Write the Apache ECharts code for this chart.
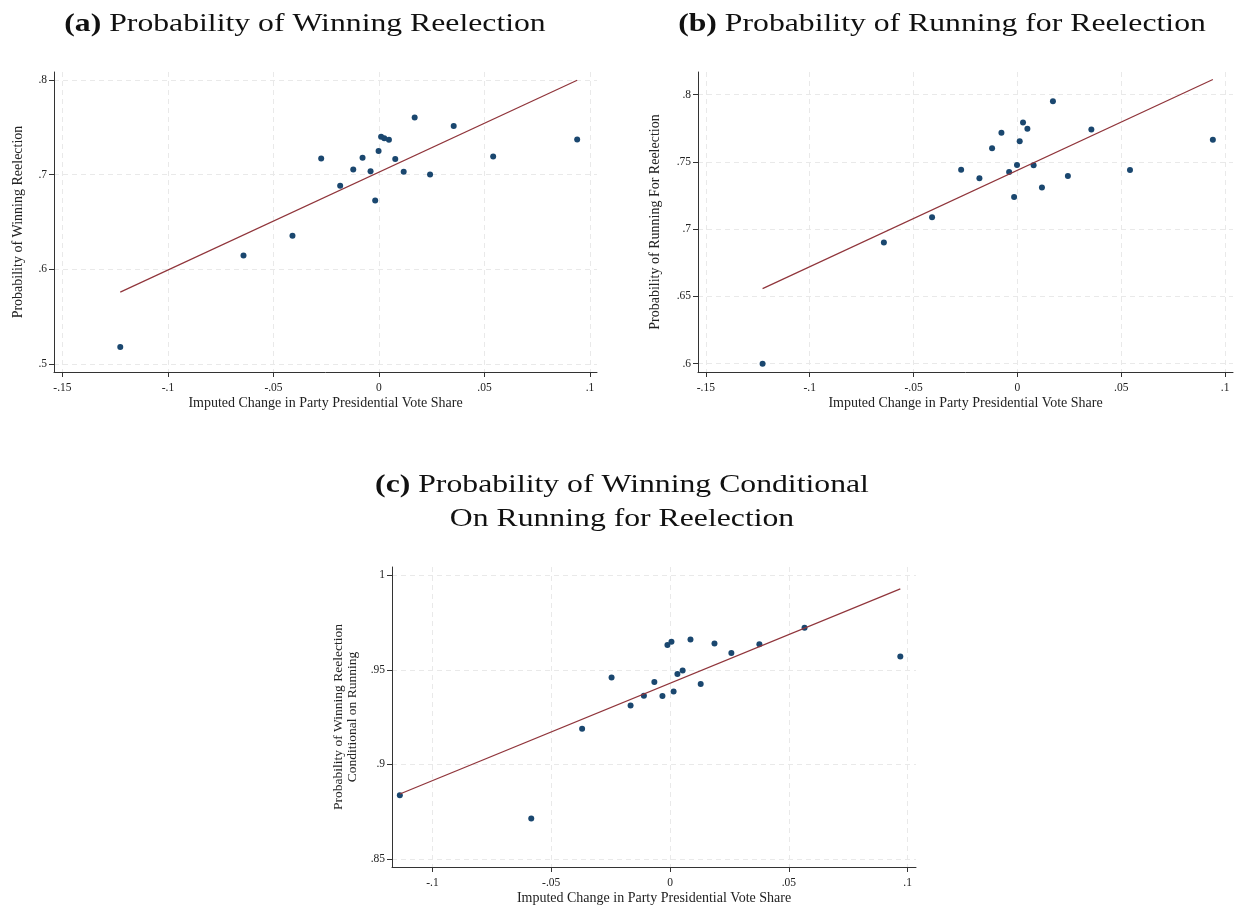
<!DOCTYPE html>
<html><head><meta charset="utf-8">
<script src="https://cdn.jsdelivr.net/npm/echarts@6/dist/echarts.min.js"></script>
<style>html,body{margin:0;padding:0;background:#fff}#c{width:1236px;height:907px}</style>
</head><body><div id="c"></div>
<script>
// ---- data ----
const xA = [-0.1226,-0.0642,-0.0410,-0.0274,-0.0184,-0.0122,-0.0078,-0.0040,-0.0018,-0.0002,0.0010,0.0025,0.0047,0.0077,0.0117,0.0169,0.0242,0.0354,0.0541,0.0939];
const yA = [0.518,0.6147,0.6355,0.7172,0.6884,0.7056,0.718,0.7035,0.6728,0.725,0.740,0.7384,0.737,0.7165,0.7032,0.7603,0.7003,0.7514,0.7193,0.7373];
const fitA = [[-0.1226,0.5759],[0.0939,0.7997]];

const xB = [-0.1227,-0.0643,-0.0411,-0.0271,-0.0183,-0.0122,-0.0077,-0.0040,-0.0016,-0.0002,0.0011,0.0027,0.0048,0.0078,0.0118,0.0171,0.0243,0.0356,0.0542,0.0941];
const yB = [0.600,0.690,0.7088,0.7442,0.7378,0.7601,0.7717,0.7425,0.7239,0.7477,0.7653,0.7792,0.7747,0.7474,0.7309,0.795,0.7395,0.774,0.744,0.7665];
const fitB = [[-0.1227,0.6558],[0.0941,0.8112]];

const xC = [-0.1137,-0.0584,-0.0370,-0.0246,-0.0166,-0.0110,-0.0066,-0.0032,-0.0011,0.0006,0.0015,0.0031,0.0053,0.0086,0.0129,0.0187,0.0258,0.0376,0.0566,0.0969];
const yC = [0.8836,0.8713,0.9189,0.946,0.9311,0.9363,0.9436,0.9362,0.9632,0.9649,0.9385,0.9478,0.9496,0.966,0.9425,0.9639,0.9589,0.9635,0.9723,0.9571];
const fitC = [[-0.1137,0.8843],[0.0969,0.9928]];

const xTicksAB = [-0.15,-0.1,-0.05,0,0.05,0.1];
const xTicksC = [-0.1,-0.05,0,0.05,0.1];
const yTicksA = [0.5,0.6,0.7,0.8];
const yTicksB = [0.6,0.65,0.7,0.75,0.8];
const yTicksC = [0.85,0.9,0.95,1];

const panelLetters = ['a','b','c'];
const titles = ['Probability of Winning Reelection','Probability of Running for Reelection','Probability of Winning Conditional\nOn Running for Reelection'];
const xName = 'Imputed Change in Party Presidential Vote Share';
const yNames = ['Probability of Winning Reelection','Probability of Running For Reelection','Probability of Winning Reelection\nConditional on Running'];

// ---- chart ----
const FONT = 'Liberation Serif';
const fmt = v => { if (Math.abs(v) < 1e-9) return '0'; return String(+v.toFixed(3)).replace('0.', '.'); };
const pts = (xs, ys) => xs.map((x,i)=>[x, ys[i]]);

function xAxis(idx, min, max, ticks) {
  return {
    type:'value', gridIndex: idx, min, max,
    name: xName, nameLocation:'middle', nameGap: 24,
    nameTextStyle:{fontFamily:FONT, fontSize:14, color:'#222'},
    axisLine:{show:true, onZero:false, lineStyle:{color:'#333', width:1}},
    axisTick:{show:true, length:5, customValues: ticks, lineStyle:{color:'#333'}},
    axisLabel:{customValues: ticks, formatter: fmt, fontFamily:FONT, fontSize:11.5, color:'#222', margin:10},
    splitLine:{show:true, lineStyle:{color:'#e9e9e9', type:[5,4], width:1}}
  };
}
function yAxis(idx, min, max, ticks, name, gap, fs, lh) {
  return {
    type:'value', gridIndex: idx, min, max,
    name, nameLocation:'middle', nameGap: gap, nameRotate: 90,
    nameTextStyle:{fontFamily:FONT, fontSize:fs, color:'#222', lineHeight:lh},
    axisLine:{show:true, onZero:false, lineStyle:{color:'#333', width:1}},
    axisTick:{show:true, length:5, customValues: ticks, lineStyle:{color:'#333'}},
    axisLabel:{customValues: ticks, formatter: fmt, fontFamily:FONT, fontSize:11.5, color:'#222', margin:7},
    splitLine:{show:true, lineStyle:{color:'#e9e9e9', type:[5,4], width:1}}
  };
}
function titleGraphic(i, x, y) {
  return {
    type:'text', x, y, scaleX:1.22, scaleY:1,
    style:{
      text:'{b|(' + panelLetters[i] + ')} ' + titles[i],
      fill:'#111', fontFamily:FONT, fontSize:26, lineHeight:34,
      textAlign:'center', textVerticalAlign:'top',
      rich:{b:{fontFamily:FONT, fontSize:26, fontWeight:'bold', fill:'#111'}}
    }
  };
}

const chart = echarts.init(document.getElementById('c'), null, {renderer:'canvas'});
chart.setOption({
  backgroundColor:'#fff',
  animation:false,
  graphic:[
    titleGraphic(0, 305, 7),
    titleGraphic(1, 942, 7),
    titleGraphic(2, 622, 468)
  ],
  grid:[
    {left:54, top:72, width:543, height:300},
    {left:698, top:72, width:535, height:300},
    {left:392, top:567, width:524, height:300}
  ],
  xAxis:[
    xAxis(0, -0.154, 0.1033, xTicksAB),
    xAxis(1, -0.1538, 0.1038, xTicksAB),
    xAxis(2, -0.117, 0.1035, xTicksC)
  ],
  yAxis:[
    yAxis(0, 0.4915, 0.8085, yTicksA, yNames[0], 29, 14, 14),
    yAxis(1, 0.5938, 0.8168, yTicksB, yNames[1], 36, 14, 14),
    yAxis(2, 0.8457, 1.0044, yTicksC, yNames[2], 33, 13.5, 14)
  ],
  series:[
    {type:'scatter', xAxisIndex:0, yAxisIndex:0, data: pts(xA,yA), symbolSize:6, itemStyle:{color:'#1a476f', opacity:1}},
    {type:'line', xAxisIndex:0, yAxisIndex:0, data: fitA, symbol:'none', lineStyle:{color:'#90353b', width:1.2}},
    {type:'scatter', xAxisIndex:1, yAxisIndex:1, data: pts(xB,yB), symbolSize:6, itemStyle:{color:'#1a476f', opacity:1}},
    {type:'line', xAxisIndex:1, yAxisIndex:1, data: fitB, symbol:'none', lineStyle:{color:'#90353b', width:1.2}},
    {type:'scatter', xAxisIndex:2, yAxisIndex:2, data: pts(xC,yC), symbolSize:6, itemStyle:{color:'#1a476f', opacity:1}},
    {type:'line', xAxisIndex:2, yAxisIndex:2, data: fitC, symbol:'none', lineStyle:{color:'#90353b', width:1.2}}
  ]
});
</script></body></html>
